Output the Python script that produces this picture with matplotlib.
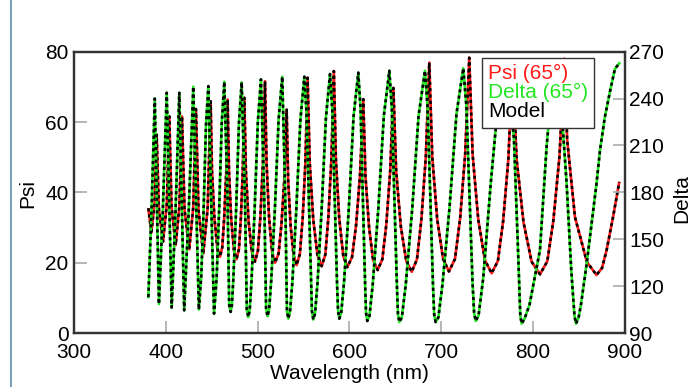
import matplotlib
matplotlib.use("Agg")
import matplotlib.pyplot as plt
from matplotlib.lines import Line2D
from matplotlib.patches import Rectangle

plt.rcParams['font.family'] = ['Liberation Sans', 'DejaVu Sans']

# ---- data ----
psi_wl = [381, 384.3, 387.7, 390, 392.5, 397, 401.1, 403.8, 406.2, 410.7, 414.8, 417.6,
          420.4, 425.5, 429.9, 432.8, 435.6, 440.8, 445.6, 448.8, 450.3, 452.9, 456, 459,
          461.5, 463.6, 465.9, 467.3, 468.8, 471.2, 474.1, 477, 479.6, 481.7, 483.8, 485.5,
          487.2, 490.1, 493.6, 497, 500.3, 503, 505.8, 508, 509.7, 512.4, 515.7, 519,
          522.8, 525.9, 529.1, 531.6, 533.2, 535.9, 539.2, 542.4, 546, 549, 552, 554.4,
          556.7, 560.5, 565.1, 569.7, 573.7, 577, 580.3, 583, 585.2, 588.8, 593.2, 597.6,
          602.8, 607.2, 611.5, 615, 617.4, 621.3, 625.7, 630.7, 635.8, 640.1, 644.4, 647.8,
          650.8, 655.8, 661.8, 667.8, 673.5, 678.3, 683.1, 686.9, 690.1, 695.5, 701.9, 708.3,
          714.9, 720.5, 726, 730.4, 734.1, 740.2, 747.5, 754.8, 761.6, 767.3, 773, 777.5,
          782, 789.5, 798.3, 807.4, 815.4, 822, 828.7, 834, 837, 845.5, 858.5, 869,
          875, 880, 887, 893.8]
psi = [35.5, 28.5, 36.9, 56.4, 35.1, 26, 36.7, 61.6, 36, 25, 36, 61.6,
       35.1, 23.8, 35.8, 63.7, 34.9, 22.6, 35.6, 65.9, 46, 32.8, 24.4, 21.7,
       24.4, 32.9, 46.3, 66.4, 46, 32.4, 23.7, 21, 23.8, 32.5, 46.2, 66.9,
       45.9, 31.9, 23.1, 20.3, 23.4, 33.1, 48.5, 71.6, 48.4, 32.9, 23.1, 20,
       22.6, 30.9, 43.9, 63.5, 43.6, 30.4, 22, 19.3, 22.5, 32.6, 48.6, 72.6,
       48.5, 32.4, 22.2, 19, 22.3, 32.9, 49.5, 74.5, 49.4, 32.7, 22, 18.7,
       21.6, 30.7, 45, 66.5, 44.6, 30.1, 20.8, 17.9, 21, 30.9, 46.4, 69.7,
       46.2, 30.5, 20.5, 17.4, 21, 32.3, 50.1, 76.9, 50.2, 32.4, 21.1, 17.5,
       21.1, 32.7, 51, 78.3, 50.7, 32.3, 20.7, 17, 20.5, 31.8, 49.5, 76,
       49.3, 31.5, 20.3, 16.7, 20.4, 32, 50.4, 78, 55, 33, 20.2, 16.5,
       18.5, 23.6, 33, 43]

delta_wl = [381, 384.5, 388, 390.3, 392.5, 396.8, 401, 403.7, 406.4, 410.6, 414.7, 417.4,
            420, 425, 429.9, 433, 436, 438.6, 441.2, 443.7, 446.3, 449.4, 452.5, 455.3,
            458.1, 460.9, 463.7, 467.2, 469, 470.6, 472, 473.6, 476.6, 479.6, 482.6, 486.2,
            488.2, 489.8, 491.4, 493.3, 496.7, 500.2, 503.6, 507.2, 509.2, 510.8, 512.5, 514.8,
            518.8, 522.8, 526.8, 530.1, 531.9, 533.4, 535.2, 537.8, 542.1, 546.5, 550.8, 553.2,
            555.7, 558.1, 559.1, 560.6, 562.5, 565.2, 569.7, 574.3, 578.8, 581.3, 583.9, 586.4,
            587.5, 588.9, 591, 594.1, 599.3, 604.4, 609.6, 612.1, 614.5, 617, 618, 619.4,
            621.8, 625.4, 631.4, 637.4, 643.4, 646.1, 648.9, 651.6, 652.8, 654.3, 657, 661.3,
            668.3, 675.2, 682.2, 685.1, 688, 690.9, 692.2, 693.8, 696.8, 701.3, 708.9, 716.5,
            723.9, 727.3, 730.7, 734, 735.7, 737.4, 740.5, 745.6, 753.7, 761.9, 770, 774.4,
            779, 783.1, 786, 787.5, 790.5, 796, 807.4, 814.6, 820, 825, 829.5, 836.4,
            841.5, 845, 846.6, 849.5, 852, 858.3, 869, 872.8, 878, 884, 889, 893.8]
delta = [113, 170, 240, 174, 108.5, 169, 243.7, 175, 106.3, 168.1, 243.7, 174.1,
         104.5, 168.9, 247.6, 176.3, 105, 126.5, 169.4, 222.3, 248, 175.2, 102.4, 124.7,
         169.2, 224.1, 250.8, 177.2, 108, 103.5, 108, 125.5, 169.6, 224, 250.4, 175.3,
         105, 100.2, 105, 123, 168.6, 224.9, 252.3, 176.5, 105.5, 100.7, 105, 123.7,
         169.7, 226.4, 254, 176.6, 104, 99.2, 103.5, 122.4, 168.9, 226.1, 254, 230.7,
         176.3, 121.9, 104, 98.6, 102.5, 122.2, 169.3, 227.4, 255.7, 232.2, 177.5, 122.7,
         105, 99.2, 103, 122.8, 170, 228.3, 256.6, 232.8, 177.2, 121.5, 103, 97.7,
         101, 121.7, 169.7, 229, 257.8, 233.7, 177.4, 121.1, 102, 97, 100, 121.1,
         169.4, 228.9, 257.8, 233.7, 177.4, 121.1, 102, 97, 100, 121.4, 170.1, 230.2,
         259.4, 235.1, 178.6, 122, 103, 97.7, 101, 125, 185, 238, 260, 240,
         215, 150, 101, 96, 99, 108, 143, 209, 245, 261, 245, 186,
         130, 101, 96, 100, 108, 134.5, 185.7, 207, 228, 245.5, 259, 262.6]

# model fit coincides with the measured curves
model_psi = psi
model_delta = delta

x_ticks = [300, 400, 500, 600, 700, 800, 900]
psi_ticks = [0, 20, 40, 60, 80]
delta_ticks = [90, 120, 150, 180, 210, 240, 270]
legend_labels = ["Psi (65°)", "Delta (65°)", "Model"]

RED = '#ff1a1a'
GREEN = '#22e622'
FS = 15

fig = plt.figure(figsize=(6.9, 3.87), dpi=100)
ax = fig.add_axes([0.1072, 0.1395, 0.7986, 0.7269])
ax2 = ax.twinx()

ax.plot(psi_wl, psi, color=RED, lw=1.9, solid_capstyle='butt', zorder=3)
ax.plot(psi_wl, model_psi, color='black', lw=1.9, ls=(0, (1.2, 1.2)), zorder=4)
ax2.plot(delta_wl, delta, color=GREEN, lw=1.9, zorder=3)
ax2.plot(delta_wl, model_delta, color='black', lw=1.9, ls=(0, (1.2, 1.2)), zorder=4)

ax.set_xlim(300, 900)
ax.set_ylim(0, 80)
ax2.set_ylim(90, 270)
ax.set_xticks(x_ticks)
ax.set_yticks(psi_ticks)
ax2.set_yticks(delta_ticks)

for a in (ax, ax2):
    for s in a.spines.values():
        s.set_linewidth(1.6)
        s.set_color('#333333')

ax.tick_params(axis='x', direction='in', length=9, width=1.2, color='#aaaaaa',
               labelsize=FS, pad=7.5, top=False)
ax.tick_params(axis='y', direction='in', length=9, width=1.2, color='#aaaaaa',
               labelsize=FS, pad=4, right=False)
ax2.tick_params(axis='y', direction='in', length=9, width=1.2, color='#aaaaaa',
                labelsize=FS, pad=3)

fig.text(0.0406, 0.500, "Psi", rotation=90, ha='center', va='center', fontsize=FS)
fig.text(0.988, 0.488, "Delta", rotation=90, ha='center', va='center', fontsize=FS)
fig.text(0.507, 0.034, "Wavelength (nm)", ha='center', va='center', fontsize=FS)

handles = [Line2D([], [], linestyle='none') for _ in legend_labels]
leg = ax2.legend(handles, legend_labels, loc='upper right', bbox_to_anchor=(0.944, 0.978),
                 borderaxespad=0, fancybox=False, framealpha=1, edgecolor='#333333',
                 handlelength=0, handletextpad=0, labelspacing=0.0, borderpad=0.3,
                 fontsize=FS)
leg.get_frame().set_linewidth(1.0)
for t, c in zip(leg.get_texts(), [RED, GREEN, 'black']):
    t.set_color(c)
leg.set_zorder(10)

fig.patches.append(Rectangle((11 / 690, -0.2), 1.2, 1.2 + (1 - 9 / 387), fill=False,
                             edgecolor='#7ba3bd', linewidth=1.5,
                             transform=fig.transFigure, clip_on=False))

fig.savefig("out.png", dpi=100)
